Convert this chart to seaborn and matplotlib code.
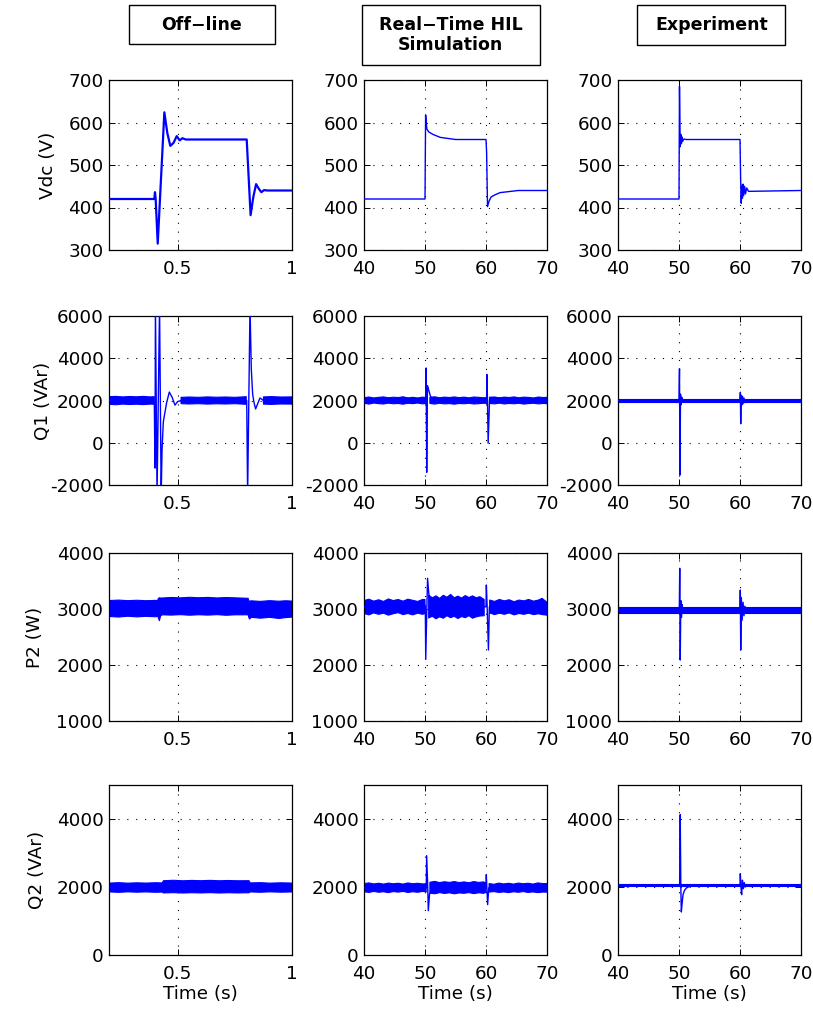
import numpy as np
import matplotlib
matplotlib.use("Agg")
import matplotlib.pyplot as plt
import seaborn as sns
from matplotlib.patches import Rectangle

nan = np.nan

# ---------------- Row 1 : Vdc (V) ----------------
vdc_off_t = [0.20, 0.398, 0.401, 0.404, 0.413, 0.442, 0.455, 0.468, 0.482, 0.496, 0.509, 0.521, 0.535,
             0.802, 0.819, 0.831, 0.843, 0.855, 0.866, 0.878, 0.890, 1.00]
vdc_off_v = [420, 420, 436, 420, 315, 624, 575, 545, 552, 568, 558, 563, 560,
             560, 382, 425, 455, 444, 436, 441, 440, 440]

vdc_hil_t = [40, 50.0, 50.1, 50.3, 50.6, 51.3, 52.5, 55, 60.0, 60.1, 60.25, 60.5, 60.85, 61.5, 62.3, 65.3, 70]
vdc_hil_v = [420, 420, 618, 585, 578, 572, 565, 560, 560, 530, 402, 415, 425, 430, 435, 440, 440]

vdc_exp_t = [40, 50.0, 50.08, 50.2, 50.3, 50.4, 50.5, 50.6, 50.8, 51.2, 60.0, 60.1, 60.2, 60.3, 60.4,
             60.5, 60.6, 60.75, 60.9, 61.1, 61.4, 70]
vdc_exp_v = [420, 420, 685, 543, 572, 550, 566, 556, 561, 560, 560, 470, 410, 452, 422,
             455, 428, 450, 432, 446, 438, 440]

# ---------------- Row 2 : Q1 (VAr) ----------------
q1_off_t = [0.20, 0.398, 0.401, 0.403, 0.410, 0.421, 0.428, 0.432, 0.4375, 0.452, 0.4637, 0.476, 0.4885,
            0.500, 0.515, 0.802, 0.806, 0.8164, 0.822, 0.828, 0.834, 0.841, 0.850, 0.860, 0.875, 1.00]
q1_off_v = [2000, 2000, -1200, 6500, -2500, 6500, -2500, -300, 1000, 1900, 2400, 2150, 1780,
            1950, 2000, 2000, -2500, 6500, 3500, 2300, 1900, 1600, 1850, 2120, 2000, 2000]
q1_off_band_t = [0.20, 0.23, 0.26, 0.29, 0.32, 0.35, 0.38, 0.398, nan, 0.515, 0.55, 0.59, 0.63, 0.67, 0.71,
                 0.75, 0.80, nan, 0.875, 0.91, 0.95, 1.00]
q1_off_band_lo = [1820, 1800, 1830, 1810, 1825, 1805, 1830, 1820, nan, 1850, 1835, 1850, 1830, 1845, 1835,
                  1850, 1820, nan, 1830, 1815, 1835, 1830]
q1_off_band_hi = [2180, 2195, 2170, 2190, 2175, 2195, 2170, 2180, nan, 2150, 2165, 2150, 2170, 2155, 2165,
                  2150, 2180, nan, 2170, 2185, 2165, 2170]

q1_hil_t = [40, 50.1, 50.18, 50.28, 50.4, 50.6, 50.9, 51.3, 60.1, 60.15, 60.25, 60.35, 60.6, 70]
q1_hil_v = [2000, 2000, 3540, -1400, 2700, 2500, 2200, 2050, 2000, 3230, 1900, -20, 2150, 2000]
q1_hil_band_t = [40, 40.8, 41.6, 42.4, 43.2, 44, 44.8, 45.6, 46.4, 47.2, 48, 48.8, 49.6, 50.1, nan,
                 50.8, 51.6, 52.4, 53.2, 54, 54.8, 55.6, 56.4, 57.2, 58, 58.8, 59.6, 60.1, nan,
                 60.6, 61.4, 62.2, 63, 63.8, 64.6, 65.4, 66.2, 67, 67.8, 68.6, 69.4, 70]
q1_hil_band_lo = [1870, 1830, 1880, 1850, 1835, 1875, 1845, 1860, 1825, 1870, 1850, 1880, 1840, 1860, nan,
                  1860, 1830, 1870, 1840, 1855, 1825, 1860, 1845, 1870, 1835, 1850, 1870, 1860, nan,
                  1860, 1840, 1875, 1835, 1860, 1845, 1870, 1830, 1855, 1870, 1840, 1860, 1850]
q1_hil_band_hi = [2130, 2165, 2120, 2150, 2170, 2130, 2155, 2140, 2175, 2125, 2150, 2120, 2160, 2140, nan,
                  2150, 2175, 2130, 2160, 2140, 2170, 2135, 2160, 2125, 2165, 2150, 2130, 2140, nan,
                  2140, 2165, 2125, 2160, 2140, 2170, 2130, 2160, 2145, 2120, 2165, 2140, 2150]

q1_exp_t = [40, 50.0, 50.08, 50.16, 50.25, 50.35, 50.45, 50.6, 60.0, 60.06, 60.12, 60.2, 60.3, 60.4, 60.5,
            60.65, 60.8, 61.0, 70]
q1_exp_v = [2000, 2000, 3500, -1530, 2300, 1800, 2150, 2000, 2000, 2390, 900, 2250, 1800, 2200, 1850,
            2120, 1900, 2000, 2000]
q1_exp_band_t = [40, 70]
q1_exp_band_lo = [1945, 1945]
q1_exp_band_hi = [2055, 2055]

# ---------------- Row 3 : P2 (W) ----------------
p2_off_band_t = [0.20, 0.24, 0.28, 0.32, 0.36, 0.40, 0.411, 0.413, 0.418, 0.423, 0.43, 0.47, 0.51, 0.55,
                 0.59, 0.63, 0.67, 0.71, 0.75, 0.806, 0.809, 0.812, 0.82, 0.86, 0.90, 0.94, 0.97, 1.00]
p2_off_band_lo = [2875, 2865, 2880, 2868, 2878, 2870, 2875, 2860, 2800, 2880, 2905, 2900, 2908, 2898,
                  2906, 2900, 2908, 2897, 2905, 2905, 2860, 2830, 2860, 2845, 2860, 2840, 2855, 2865]
p2_off_band_hi = [3160, 3168, 3158, 3165, 3157, 3163, 3160, 3195, 3210, 3205, 3205, 3215, 3208, 3218,
                  3210, 3216, 3206, 3214, 3208, 3200, 3150, 3150, 3155, 3145, 3158, 3148, 3156, 3150]

p2_hil_t = [40, 50.05, 50.12, 50.3, 50.42, 50.6, 50.9, 60.0, 60.06, 60.2, 60.4, 60.55, 70]
p2_hil_v = [3040, 3040, 2100, 3000, 3548, 3300, 3050, 3040, 3429, 3000, 2268, 3040, 3040]
p2_hil_band_t = [40, 40.8, 41.6, 42.4, 43.2, 44, 44.8, 45.6, 46.4, 47.2, 48, 48.8, 49.6, 50.0, nan,
                 50.6, 51.2, 51.8, 52.4, 53, 53.6, 54.2, 54.8, 55.4, 56, 56.6, 57.2, 57.8, 58.4, 59, 59.7, nan,
                 60.6, 61.4, 62.2, 63, 63.8, 64.6, 65.4, 66.2, 67, 67.8, 68.6, 69.2, 70]
p2_hil_band_lo = [2920, 2895, 2930, 2905, 2925, 2890, 2915, 2935, 2900, 2920, 2895, 2925, 2905, 2920, nan,
                  2840, 2870, 2825, 2860, 2835, 2880, 2845, 2870, 2830, 2865, 2845, 2880, 2835, 2860, 2875, 2880, nan,
                  2930, 2900, 2925, 2905, 2930, 2895, 2920, 2905, 2925, 2900, 2915, 2900, 2890]
p2_hil_band_hi = [3150, 3175, 3140, 3165, 3135, 3180, 3150, 3170, 3140, 3175, 3155, 3135, 3170, 3170, nan,
                  3250, 3200, 3235, 3190, 3245, 3210, 3260, 3200, 3230, 3195, 3240, 3205, 3235, 3200, 3220, 3170, nan,
                  3160, 3135, 3170, 3145, 3165, 3130, 3160, 3145, 3170, 3140, 3160, 3190, 3120]

p2_exp_t = [40, 50.05, 50.12, 50.2, 50.3, 50.4, 50.5, 50.6, 60.0, 60.05, 60.12, 60.22, 60.35, 60.5, 60.65,
            60.8, 61.0, 70]
p2_exp_v = [2980, 2980, 3727, 2089, 3150, 2850, 3080, 2980, 2980, 3339, 2268, 3200, 2800, 3120, 2880,
            3050, 2980, 2980]
p2_exp_band_t = [40, 70]
p2_exp_band_lo = [2935, 2935]
p2_exp_band_hi = [3030, 3030]

# ---------------- Row 4 : Q2 (VAr) ----------------
q2_off_band_t = [0.20, 0.24, 0.28, 0.32, 0.36, 0.40, 0.43, 0.436, 0.48, 0.52, 0.56, 0.60, 0.64, 0.68, 0.72,
                 0.76, 0.81, 0.815, 0.86, 0.90, 0.95, 1.00]
q2_off_band_lo = [1870, 1858, 1872, 1862, 1870, 1860, 1865, 1840, 1848, 1838, 1846, 1840, 1848, 1838, 1846,
                  1840, 1845, 1870, 1860, 1872, 1862, 1870]
q2_off_band_hi = [2130, 2142, 2128, 2138, 2130, 2140, 2135, 2200, 2212, 2198, 2208, 2200, 2210, 2198, 2206,
                  2198, 2200, 2135, 2142, 2128, 2138, 2130]

q2_hil_t = [40, 50.2, 50.27, 50.45, 50.54, 50.75, 51.2, 60.0, 60.05, 60.15, 60.27, 60.45, 70]
q2_hil_v = [1975, 1975, 2922, 2000, 1304, 1800, 1975, 1975, 2363, 1950, 1480, 1975, 1975]
q2_hil_band_t = [40, 40.8, 41.6, 42.4, 43.2, 44, 44.8, 45.6, 46.4, 47.2, 48, 48.8, 49.6, 50.2, nan,
                 50.8, 51.6, 52.4, 53.2, 54, 54.8, 55.6, 56.4, 57.2, 58, 58.8, 59.6, 60.0, nan,
                 60.5, 61.3, 62.1, 62.9, 63.7, 64.5, 65.3, 66.1, 66.9, 67.7, 68.5, 69.3, 70]
q2_hil_band_lo = [1860, 1840, 1870, 1845, 1860, 1835, 1865, 1850, 1870, 1840, 1860, 1845, 1870, 1855, nan,
                  1820, 1800, 1835, 1810, 1830, 1800, 1825, 1815, 1835, 1805, 1830, 1815, 1840, nan,
                  1850, 1865, 1840, 1855, 1835, 1860, 1845, 1865, 1840, 1855, 1835, 1850, 1850]
q2_hil_band_hi = [2100, 2120, 2090, 2110, 2085, 2115, 2095, 2110, 2085, 2120, 2095, 2110, 2090, 2095, nan,
                  2140, 2165, 2130, 2155, 2135, 2160, 2130, 2150, 2125, 2160, 2135, 2150, 2120, nan,
                  2100, 2080, 2115, 2090, 2110, 2085, 2115, 2095, 2110, 2085, 2120, 2100, 2100]

q2_exp_t = [40, 50.1, 50.2, 50.3, 50.38, 50.5, 50.66, 50.9, 51.2, 52, 60.0, 60.05, 60.15, 60.27, 60.4,
            60.55, 60.7, 60.85, 61.0, 70]
q2_exp_v = [2060, 2060, 4127, 2000, 1265, 1500, 1775, 1900, 1970, 2050, 2060, 2392, 2000, 1775, 2200,
            1950, 2130, 2000, 2060, 2060]
q2_exp_band_t = [40, 70]
q2_exp_band_lo = [2015, 2015]
q2_exp_band_hi = [2100, 2100]

# ---------------- Labels / axes ----------------
column_titles = ["Off\u2212line", "Real\u2212Time HIL\nSimulation", "Experiment"]
row_labels = ["Vdc (V)", "Q1 (VAr)", "P2 (W)", "Q2 (VAr)"]
x_label = "Time (s)"
row_ylims = [(300, 700), (-2000, 6000), (1000, 4000), (0, 5000)]
row_yticks = [[300, 400, 500, 600, 700], [-2000, 0, 2000, 4000, 6000],
              [1000, 2000, 3000, 4000], [0, 2000, 4000]]
col_xlims = [(0.2, 1.0), (40, 70), (40, 70)]
col_xticks = [[0.5, 1.0], [40, 50, 60, 70], [40, 50, 60, 70]]
col_xticklabels = [["0.5", "1"], ["40", "50", "60", "70"], ["40", "50", "60", "70"]]

lines = [
    [(vdc_off_t, vdc_off_v), (vdc_hil_t, vdc_hil_v), (vdc_exp_t, vdc_exp_v)],
    [(q1_off_t, q1_off_v), (q1_hil_t, q1_hil_v), (q1_exp_t, q1_exp_v)],
    [None, (p2_hil_t, p2_hil_v), (p2_exp_t, p2_exp_v)],
    [None, (q2_hil_t, q2_hil_v), (q2_exp_t, q2_exp_v)],
]
bands = [
    [None, None, None],
    [(q1_off_band_t, q1_off_band_lo, q1_off_band_hi), (q1_hil_band_t, q1_hil_band_lo, q1_hil_band_hi),
     (q1_exp_band_t, q1_exp_band_lo, q1_exp_band_hi)],
    [(p2_off_band_t, p2_off_band_lo, p2_off_band_hi), (p2_hil_band_t, p2_hil_band_lo, p2_hil_band_hi),
     (p2_exp_band_t, p2_exp_band_lo, p2_exp_band_hi)],
    [(q2_off_band_t, q2_off_band_lo, q2_off_band_hi), (q2_hil_band_t, q2_hil_band_lo, q2_hil_band_hi),
     (q2_exp_band_t, q2_exp_band_lo, q2_exp_band_hi)],
]

# ---------------- Style ----------------
sns.set_style("ticks")
plt.rcParams["font.family"] = ["DejaVu Sans"]
plt.rcParams["axes.unicode_minus"] = False
plt.rcParams["text.color"] = "black"
plt.rcParams["axes.labelcolor"] = "black"
plt.rcParams["xtick.color"] = "black"
plt.rcParams["ytick.color"] = "black"
BLUE = "#0000ff"
FS = 13.2

W, H = 813, 1014
fig = plt.figure(figsize=(W / 100, H / 100), dpi=100)
fig.patch.set_facecolor("white")

col_left_px = [109, 364, 618]
col_w_px = 183
row_top_px = [80, 316, 553, 785]
row_h_px = [170, 169, 168, 170]
ylabel_right_px = [57, 52, 44, 46]

for r in range(4):
    for c in range(3):
        l = col_left_px[c] / W
        b = 1 - (row_top_px[r] + row_h_px[r]) / H
        ax = fig.add_axes([l, b, col_w_px / W, row_h_px[r] / H])
        ax.set_facecolor("white")
        band = bands[r][c]
        if band is not None:
            bt, lo, hi = band
            ax.fill_between(bt, lo, hi, color=BLUE, linewidth=0.8, zorder=2)
        line = lines[r][c]
        if line is not None:
            t, v = line
            lw = 1.6 if (r == 0 and c == 0) else 1.0
            sns.lineplot(x=t, y=v, ax=ax, color=BLUE, linewidth=lw, estimator=None,
                         sort=False, zorder=3)
        ax.set_xlim(*col_xlims[c])
        ax.set_ylim(*row_ylims[r])
        ax.set_xticks(col_xticks[c])
        ax.set_xticklabels(col_xticklabels[c])
        ax.set_yticks(row_yticks[r])
        ax.grid(True, color="black", linestyle=(0, (1, 7)), linewidth=0.8, zorder=1)
        ax.set_axisbelow(True)
        ax.tick_params(direction="in", length=4, width=0.7, top=True, right=True,
                       labelsize=FS, colors="black", labelcolor="black")
        ax.tick_params(axis="x", pad=7)
        ax.tick_params(axis="y", pad=4)
        for s in ax.spines.values():
            s.set_visible(True)
            s.set_color("black")
            s.set_linewidth(0.9)
        ax.set_xlabel("")
        ax.set_ylabel("")
        if c == 0:
            ax.set_ylabel(row_labels[r], fontsize=FS, color="black")
            ax.yaxis.set_label_coords((ylabel_right_px[r] - col_left_px[0]) / col_w_px, 0.5)
        if r == 3:
            ax.set_xlabel(x_label, fontsize=FS, color="black")
            ax.xaxis.set_label_coords(0.5, -0.175)

# Column title boxes
boxes_px = [(128.5, 5, 146, 39), (361.7, 5, 178, 60), (637.3, 5, 148, 40)]
for (x0, y0, bw, bh), title in zip(boxes_px, column_titles):
    rect = Rectangle((x0 / W, 1 - (y0 + bh) / H), bw / W, bh / H, transform=fig.transFigure,
                     fill=False, edgecolor="black", linewidth=1.0)
    fig.add_artist(rect)
    fig.text((x0 + bw / 2) / W, 1 - (y0 + bh / 2) / H, title, ha="center", va="center",
             fontsize=12.5, fontweight="bold", linespacing=1.15, color="black")

fig.savefig("out.png", dpi=100, facecolor="white")
